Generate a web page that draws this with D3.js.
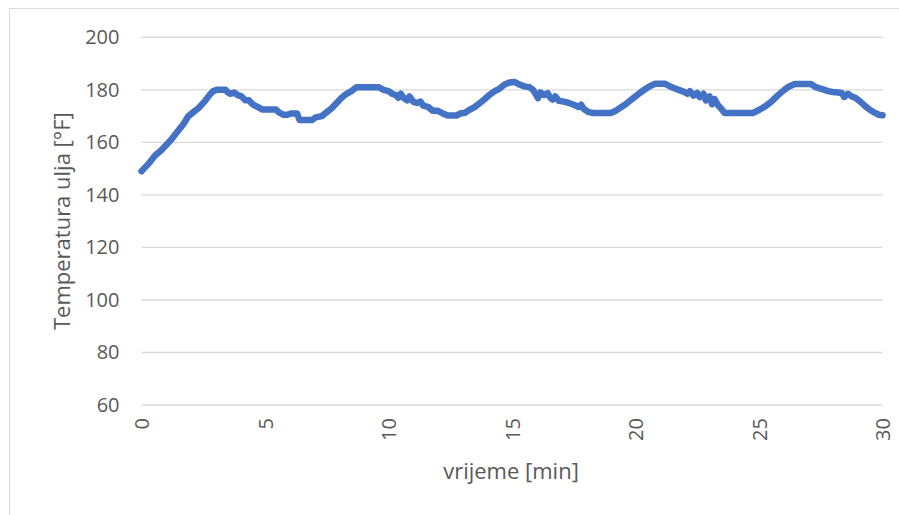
<!DOCTYPE html>
<html>
<head>
<meta charset="utf-8">
<script src="https://cdn.jsdelivr.net/npm/d3@7"></script>
<style>
  html, body { margin: 0; padding: 0; background: #fff; }
  svg { display: block; }
</style>
</head>
<body>
<svg id="chart" width="899" height="515"></svg>
<script>
// time in minutes
const times = [
  0, 0.1, 0.3, 0.55, 0.8, 1.0, 1.2, 1.45, 1.7, 1.9,
  2.1, 2.3, 2.55, 2.75, 2.9, 3.05, 3.4, 3.5, 3.6, 3.75,
  3.9, 4.05, 4.2, 4.35, 4.5, 4.7, 4.9, 5.1, 5.3, 5.45,
  5.55, 5.75, 5.9, 6.05, 6.3, 6.4, 6.6, 6.9, 7.05, 7.3,
  7.5, 7.7, 7.9, 8.1, 8.3, 8.5, 8.7, 9.0, 9.6, 9.8,
  10.0, 10.15, 10.3, 10.4, 10.5, 10.6, 10.75, 10.85, 11.0, 11.15,
  11.3, 11.4, 11.6, 11.8, 12.0, 12.2, 12.4, 12.75, 12.9, 13.1,
  13.3, 13.5, 13.7, 13.9, 14.1, 14.3, 14.5, 14.7, 14.9, 15.1,
  15.3, 15.5, 15.7, 15.85, 15.95, 16.05, 16.15, 16.3, 16.45, 16.55,
  16.65, 16.75, 16.9, 17.1, 17.3, 17.5, 17.7, 17.8, 17.9, 18.1,
  18.3, 19.0, 19.2, 19.4, 19.6, 19.8, 20.0, 20.2, 20.4, 20.6,
  20.8, 21.2, 21.4, 21.6, 21.8, 21.95, 22.1, 22.2, 22.35, 22.5,
  22.6, 22.75, 22.85, 23.0, 23.1, 23.2, 23.35, 23.5, 23.6, 24.75,
  25.0, 25.25, 25.5, 25.75, 26.0, 26.2, 26.45, 27.1, 27.3, 27.55,
  27.8, 28.0, 28.2, 28.35, 28.45, 28.6, 28.75, 28.9, 29.1, 29.3,
  29.5, 29.7, 29.85, 30.0
];
// oil temperature in °F
const temps = [
  149, 150, 152, 155, 157, 159, 161, 164, 167, 170,
  171.5, 173, 175.5, 178, 179.5, 180, 180, 179, 178.5, 179,
  178, 177.5, 176, 176, 174.5, 173.5, 172.5, 172.5, 172.5, 172.5,
  171.5, 170.5, 170.5, 171, 171, 168.5, 168.5, 168.5, 169.5, 170,
  171.5, 173, 175, 177, 178.5, 179.5, 181, 181, 181, 180,
  179.5, 178.5, 178, 177, 178.5, 177, 176, 177.5, 175.5, 175,
  175.5, 174, 173.5, 172, 172, 171, 170.2, 170.2, 171, 171.3,
  172.5, 173.5, 175, 176.5, 178.2, 179.5, 180.5, 182, 182.8, 183,
  182, 181.3, 181, 180, 178.5, 176.8, 179, 178, 178.7, 177,
  176.3, 177.5, 175.8, 175.5, 175, 174.3, 173.5, 174.3, 172.8, 171.5,
  171.2, 171.2, 172, 173.3, 174.5, 176, 177.5, 179, 180.3, 181.5,
  182.3, 182.3, 181.3, 180.5, 179.8, 179.3, 178.5, 179.5, 177.8, 178.8,
  177.2, 178.5, 176, 177.5, 174.5, 176.5, 174, 172.5, 171.2, 171.2,
  172.3, 173.7, 175.5, 177.8, 179.8, 181.2, 182.2, 182.2, 181, 180.3,
  179.5, 179.2, 179, 178.8, 177.3, 178.5, 177.5, 177, 175.5, 173.8,
  172.3, 171.2, 170.5, 170.3
];
const xTicks = [0, 5, 10, 15, 20, 25, 30];
const yTicks = [60, 80, 100, 120, 140, 160, 180, 200];
const xTitle = "vrijeme [min]";
const yTitle = "Temperatura ulja [°F]";

const svg = d3.select("#chart");
const FONT = "'Open Sans', 'Noto Sans', sans-serif";

// chart area border
svg.append("rect")
  .attr("x", 9.5).attr("y", 8.5)
  .attr("width", 900).attr("height", 520)
  .attr("fill", "#fff").attr("stroke", "#d9d9d9").attr("stroke-width", 1);

const plotLeft = 141.5, plotRight = 882.5, plotTop = 37.3, plotBottom = 405;
const x = d3.scaleLinear().domain([0, 30]).range([plotLeft, plotRight]);
const y = d3.scaleLinear().domain([60, 200]).range([plotBottom, plotTop]);

// gridlines
svg.append("g").selectAll("line").data(yTicks).join("line")
  .attr("x1", plotLeft).attr("x2", plotRight)
  .attr("y1", d => y(d)).attr("y2", d => y(d))
  .attr("stroke", "#d9d9d9").attr("stroke-width", 1.4);

// y axis labels
const yAxis = d3.axisLeft(y).tickValues(yTicks).tickSize(0).tickPadding(22);
const gy = svg.append("g").attr("transform", `translate(${plotLeft},0)`).call(yAxis);
gy.select(".domain").remove();
gy.selectAll("text").attr("font-family", FONT).attr("font-size", 20).attr("fill", "#595959");

// x axis labels (rotated)
const xAxis = d3.axisBottom(x).tickValues(xTicks).tickSize(0).tickFormat(d3.format("d"));
const gx = svg.append("g").attr("transform", `translate(0,${plotBottom})`).call(xAxis);
gx.select(".domain").remove();
gx.selectAll("text")
  .attr("font-family", FONT).attr("font-size", 20).attr("fill", "#595959")
  .attr("transform", "rotate(-90)")
  .attr("x", -13).attr("y", 0).attr("dy", "0.35em")
  .attr("text-anchor", "end");

// axis titles
svg.append("text")
  .attr("x", 511).attr("y", 479)
  .attr("text-anchor", "middle")
  .attr("font-family", FONT).attr("font-size", 22).attr("fill", "#595959")
  .text(xTitle);

svg.append("text")
  .attr("transform", `translate(70,${(plotTop + plotBottom) / 2}) rotate(-90)`)
  .attr("text-anchor", "middle")
  .attr("font-family", FONT).attr("font-size", 22).attr("fill", "#595959")
  .text(yTitle);

// data line
const data = times.map((t, i) => ({ t, v: temps[i] }));
const line = d3.line().x(d => x(d.t)).y(d => y(d.v));
svg.append("path")
  .datum(data)
  .attr("d", line)
  .attr("fill", "none")
  .attr("stroke", "#4472C4")
  .attr("stroke-width", 6.5)
  .attr("stroke-linejoin", "round")
  .attr("stroke-linecap", "round");
</script>
</body>
</html>
